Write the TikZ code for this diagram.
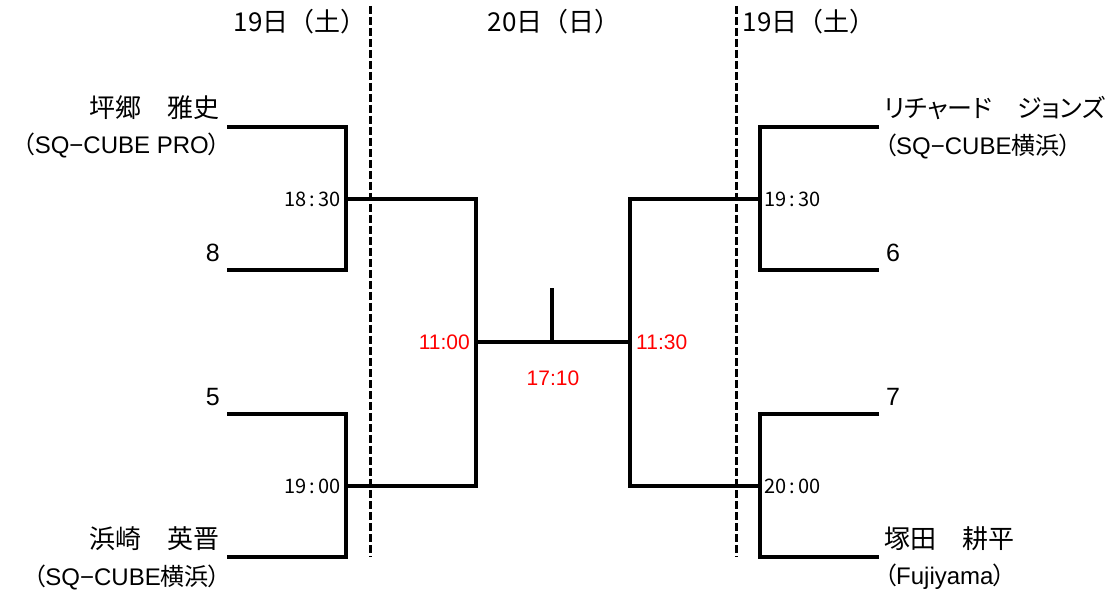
\documentclass[tikz,border=0pt]{standalone}
\usepackage{fontspec}
\setmainfont{Noto Sans CJK JP}
\newfontfamily\paltfont[RawFeature=+palt]{Noto Sans CJK JP}
\newfontfamily\latfont{Liberation Sans}
\newfontfamily\redfont{Liberation Sans}
\newcommand\jp[1]{{\paltfont #1}}
\begin{document}
\begin{tikzpicture}[x=1pt,y=-1pt,
  br/.style={line width=3.2pt,line join=miter},
  sep/.style={line width=3pt,dash pattern=on 8pt off 3pt},
  pname/.style={inner sep=0pt,font=\fontsize{26}{28}\selectfont},
  pnum/.style={inner sep=0pt,font=\latfont\fontsize{25}{28}\selectfont},
  pkana/.style={inner sep=0pt,font=\paltfont\fontsize{25}{28}\selectfont},
  pclub/.style={inner sep=0pt,font=\latfont\fontsize{24}{28}\selectfont},
  hdr/.style={inner sep=0pt,font=\fontsize{26}{28}\selectfont},
  tmk/.style={inner sep=0pt,font=\fontsize{20}{22}\selectfont},
  rtm/.style={inner sep=0pt,text=red,font=\redfont\fontsize{21}{22}\selectfont}]
\useasboundingbox (0,0) rectangle (1112,596);
% headers
\node[hdr] (h1) at (300,22) {19日（土）};
\node[hdr] (h2) at (554,22) {20日（日）};
\node[hdr] (h3) at (809,22) {19日（土）};
% separators
\coordinate (d1a) at (370,6); \coordinate (d1b) at (370,557);
\coordinate (d2a) at (736,6); \coordinate (d2b) at (736,557);
\draw[sep] (d1a) -- (d1b);
\draw[sep] (d2a) -- (d2b);
% left top bracket
\coordinate (a1) at (227,127); \coordinate (b1) at (227,270);
\coordinate (j1) at (346,199);
\draw[br] (a1) -| (j1) |- (b1);
% left bottom bracket
\coordinate (a2) at (227,414); \coordinate (b2) at (227,557);
\coordinate (j2) at (346,486);
\draw[br] (a2) -| (j2) |- (b2);
% right top bracket
\coordinate (a3) at (879,127); \coordinate (b3) at (879,270);
\coordinate (j3) at (760,199);
\draw[br] (a3) -| (j3) |- (b3);
% right bottom bracket
\coordinate (a4) at (879,414); \coordinate (b4) at (879,557);
\coordinate (j4) at (760,486);
\draw[br] (a4) -| (j4) |- (b4);
% semifinals and final
\coordinate (m1) at (476,342); \coordinate (m2) at (630,342);
\coordinate (mc) at (552,342); \coordinate (top) at (552,288);
\draw[br] (j1) -| (m1) |- (j2);
\draw[br] (j3) -| (m2) |- (j4);
\draw[br] (m1) -- (m2);
\draw[br] (mc) -- (top);
% left names
\node[pname,anchor=east] (p1) at (220,108) {坪郷　雅史};
\node[pclub,anchor=east] (c1) at (221,145) {\jp{（}SQ−CUBE PRO\jp{）}};
\node[pnum,anchor=east] (p2) at (220,253) {8};
\node[pnum,anchor=east] (p3) at (220,397) {5};
\node[pname,anchor=east] (p4) at (220,539) {浜崎　英晋};
\node[pclub,anchor=east] (c4) at (221,577) {\jp{（}SQ−CUBE\jp{横浜）}};
% right names
\node[pkana,anchor=west] (q1) at (884,108) {リチャード　ジョンズ};
\node[pclub,anchor=west] (d1) at (884,146) {\jp{（}SQ−CUBE\jp{横浜）}};
\node[pnum,anchor=west] (q2) at (886,253) {6};
\node[pnum,anchor=west] (q3) at (886,397) {7};
\node[pname,anchor=west] (q4) at (884,539) {塚田　耕平};
\node[pclub,anchor=west] (d4) at (884,577) {\jp{（}Fujiyama\jp{）}};
% times
\node[tmk,anchor=east] (t1) at (341,199) {18\,:\,30};
\node[tmk,anchor=east] (t2) at (341,486) {19\,:\,00};
\node[tmk,anchor=west] (t3) at (764,199) {19\,:\,30};
\node[tmk,anchor=west] (t4) at (764,486) {20\,:\,00};
\node[rtm,anchor=east] (r1) at (470,342) {11:00};
\node[rtm,anchor=west] (r2) at (636,342) {11:30};
\node[rtm] (r3) at (553,378) {17:10};
\end{tikzpicture}
\end{document}
